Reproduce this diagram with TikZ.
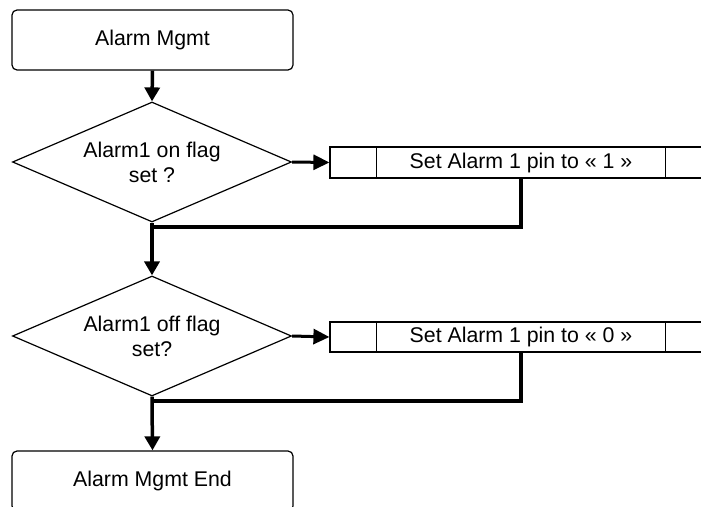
\documentclass[tikz,border=0pt]{standalone}
\usepackage{fontspec}
\setmainfont{Liberation Sans}
\usetikzlibrary{shapes.geometric,arrows.meta}
\tikzset{
  base/.style={draw=black, line width=1.2pt, inner sep=0pt, align=center,
    font=\fontsize{21.3}{25}\selectfont},
  termbox/.style={base, rectangle, rounded corners=5pt, minimum width=281pt, minimum height=60pt},
  decide/.style={base, diamond, aspect=2.325, minimum width=279pt, minimum height=120pt},
  procbox/.style={base, rectangle, minimum width=382pt},
  flow/.style={line width=3.5pt, -{Triangle[length=14pt,width=15pt]}},
  flowh/.style={line width=3pt, -{Triangle[length=16pt,width=15pt]}},
  joinline/.style={line width=3.5pt},
}
\begin{document}
\begin{tikzpicture}[x=1pt,y=-1pt]
\clip (0,0) rectangle (701,506);
\fill[white] (0,0) rectangle (701,506);
\node[termbox] (start) at (152.5,40) {Alarm Mgmt};
\node[decide] (d1) at (152,162) {Alarm1 on flag\\set ?};
\node[procbox, minimum height=31pt] (p1) at (521,162.5) {Set Alarm 1 pin to « 1 »};
\draw[line width=1.2pt] ([xshift=47pt]p1.north west) -- ([xshift=47pt]p1.south west);
\draw[line width=1.2pt] ([xshift=-47pt]p1.north east) -- ([xshift=-47pt]p1.south east);
\node[decide] (d2) at (152,336) {Alarm1 off flag\\set?};
\node[procbox, minimum height=30pt] (p2) at (521,337) {Set Alarm 1 pin to « 0 »};
\draw[line width=1.2pt] ([xshift=47pt]p2.north west) -- ([xshift=47pt]p2.south west);
\draw[line width=1.2pt] ([xshift=-47pt]p2.north east) -- ([xshift=-47pt]p2.south east);
\node[termbox] (end) at (152.5,481) {Alarm Mgmt End};
\coordinate (j1) at (152,227);
\coordinate (j2) at (152,401);
\draw[flow] (start.south) -- (d1.north);
\draw[flowh] (d1.east) -- (p1.west);
\draw[joinline] (p1.south) |- (j1);
\draw[flow] (d1.south) -- (j1) -- (d2.north);
\draw[flowh] (d2.east) -- (p2.west);
\draw[joinline] (p2.south) |- (j2);
\draw[flow] (d2.south) -- (j2) -- (end.north);
\end{tikzpicture}
\end{document}
